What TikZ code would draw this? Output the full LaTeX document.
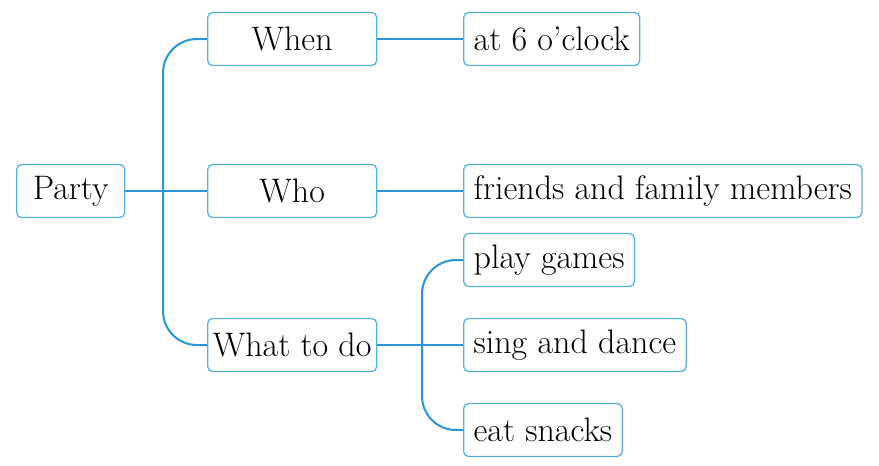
\documentclass[tikz,border=0pt]{standalone}
\usepackage{fontspec}
\begin{document}
\begin{tikzpicture}[x=1pt,y=-1pt,
  box/.style={draw=boxblue, line width=1.3pt, rounded corners=5pt, minimum height=53pt, inner xsep=10pt, inner ysep=0pt, text=black, font=\fontsize{34}{38}\selectfont, anchor=west},
  midbox/.style={box, minimum width=169pt, inner xsep=4pt},
  link/.style={draw=lineblue, line width=1.1pt},
  brace/.style={draw=lineblue, line width=2pt, rounded corners=34pt}]
\definecolor{boxblue}{RGB}{90,175,225}
\definecolor{lineblue}{RGB}{40,150,215}
\useasboundingbox (0,0) rectangle (879,466);
\node[box, minimum width=108pt] (party) at (16,191) {Party};
\node[midbox] (when) at (207,39) {When};
\node[midbox] (who) at (207,191) {Who};
\node[midbox] (what) at (207,345) {What to do};
\node[box] (at6) at (463,39) {at 6 o'clock};
\node[box] (friends) at (463,191) {friends and family members};
\node[box] (play) at (463,260) {play games};
\node[box] (sing) at (463,345) {sing and dance};
\node[box] (eat) at (463,430) {eat snacks};
\coordinate (b1) at (163,191);
\coordinate (b2) at (422,345);
\draw[brace] (when.west) -| (b1) |- (what.west);
\draw[brace] (play.west) -| (b2) |- (eat.west);
\draw[link] (party.east) -- (who.west);
\draw[link] (when.east) -- (at6.west);
\draw[link] (who.east) -- (friends.west);
\draw[link] (what.east) -- (sing.west);
\end{tikzpicture}
\end{document}
